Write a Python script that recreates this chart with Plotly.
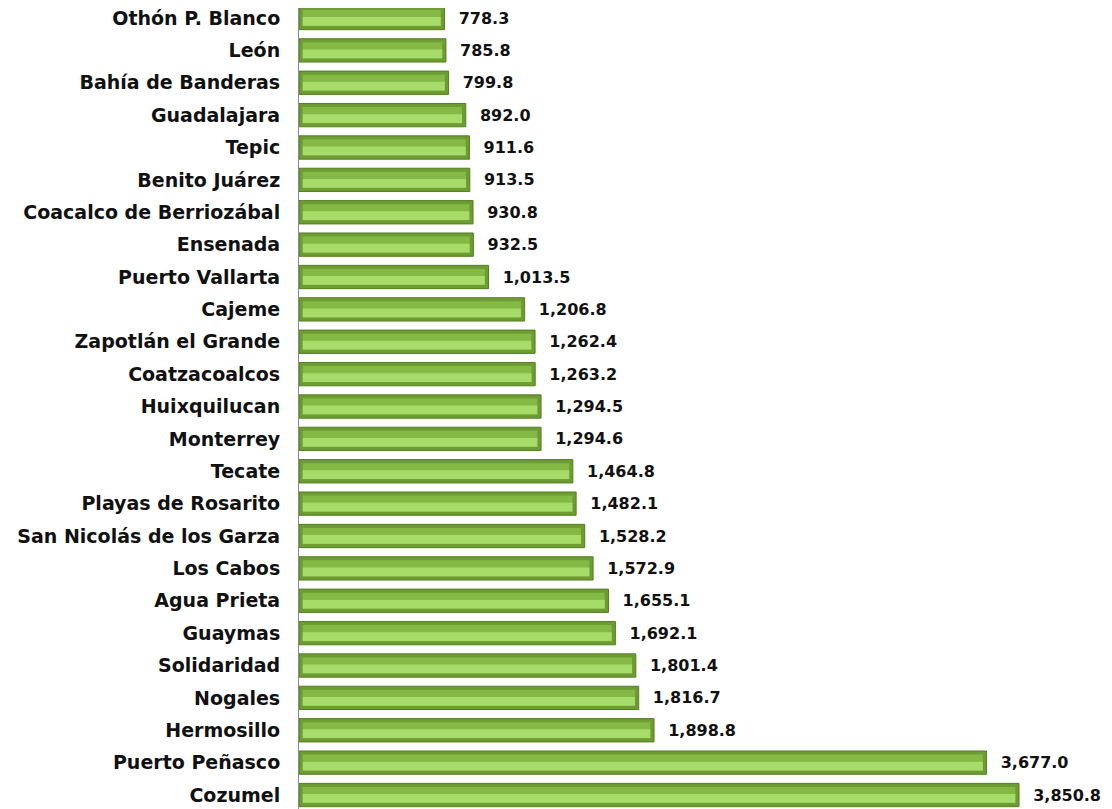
import plotly.graph_objects as go

municipios = [
    "Othón P. Blanco", "León", "Bahía de Banderas", "Guadalajara", "Tepic",
    "Benito Juárez", "Coacalco de Berriozábal", "Ensenada", "Puerto Vallarta",
    "Cajeme", "Zapotlán el Grande", "Coatzacoalcos", "Huixquilucan", "Monterrey",
    "Tecate", "Playas de Rosarito", "San Nicolás de los Garza", "Los Cabos",
    "Agua Prieta", "Guaymas", "Solidaridad", "Nogales", "Hermosillo",
    "Puerto Peñasco", "Cozumel",
]
valores = [
    778.3, 785.8, 799.8, 892.0, 911.6, 913.5, 930.8, 932.5, 1013.5,
    1206.8, 1262.4, 1263.2, 1294.5, 1294.6, 1464.8, 1482.1, 1528.2, 1572.9,
    1655.1, 1692.1, 1801.4, 1816.7, 1898.8, 3677.0, 3850.8,
]
etiquetas = ["  " + f"{v:,.1f}" for v in valores]

FONT = "DejaVu Sans"
inset = 20

fig = go.Figure()
# outer bar (dark bevel)
fig.add_trace(go.Bar(
    y=municipios, x=valores, orientation="h", width=0.72,
    marker=dict(color="#6c9c32", line=dict(color="#567f22", width=1)),
    text=etiquetas, textposition="outside", cliponaxis=False,
    textfont=dict(family=FONT, size=16, color="#111111", weight="bold"),
    hoverinfo="skip", showlegend=False,
))
# mid face
fig.add_trace(go.Bar(
    y=municipios, x=[v - 2 * inset for v in valores], base=inset,
    orientation="h", width=0.5,
    marker=dict(color="#84b945", line=dict(width=0)),
    hoverinfo="skip", showlegend=False,
))
# light lower part
fig.add_trace(go.Bar(
    y=municipios, x=[v - 2 * inset for v in valores], base=inset,
    orientation="h", width=0.27, offset=-0.03,
    marker=dict(color="#a8dc6a", line=dict(width=0)),
    hoverinfo="skip", showlegend=False,
))

fig.update_layout(
    width=1104, height=801,
    margin=dict(l=291, r=0, t=0, b=0, autoexpand=False),
    paper_bgcolor="white", plot_bgcolor="white",
    barmode="overlay",
    xaxis=dict(range=[0, 4348], visible=False, showgrid=False, zeroline=False),
    yaxis=dict(
        range=[24.432, -0.309], showgrid=False, zeroline=False,
        showline=True, linecolor="#8a8a8a", linewidth=1,
        ticks="", ticklabelstandoff=14, automargin=False,
        tickfont=dict(family=FONT, size=19, color="#111111", weight="bold"),
    ),
)

fig.write_html("out.html")
